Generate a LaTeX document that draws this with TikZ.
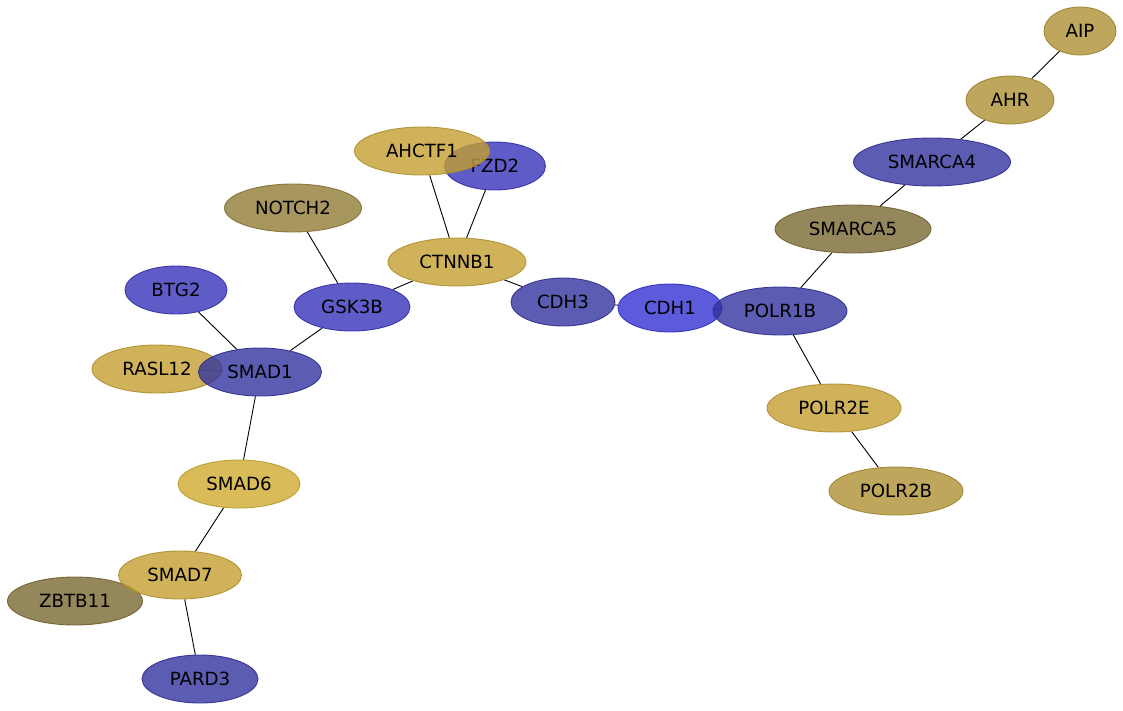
\documentclass[tikz,border=0pt]{standalone}
\usepackage{fontspec}
\setmainfont{DejaVu Sans}
\usetikzlibrary{shapes.geometric,backgrounds}

\definecolor{goldA}{RGB}{195,159,49}
\definecolor{goldB}{RGB}{207,170,49}
\definecolor{goldC}{RGB}{174,144,51}
\definecolor{oliveA}{RGB}{146,124,55}
\definecolor{oliveB}{RGB}{122,105,51}
\definecolor{blueA}{RGB}{55,51,186}
\definecolor{blueB}{RGB}{51,51,159}
\definecolor{blueC}{RGB}{52,49,211}

\tikzset{
  gene/.style={ellipse, draw, line width=0.9pt, fill opacity=0.8, draw opacity=0.9,
    text opacity=1, minimum height=48pt, inner sep=0pt,
    font=\fontsize{18.2}{21}\selectfont},
  link/.style={draw=black, line width=0.9pt}
}

\begin{document}
\begin{tikzpicture}[x=1pt, y=-1pt]
						\useasboundingbox (0,0) rectangle (1123,710);
						\node[gene, fill=goldC, draw=goldC!90!black, minimum width=72pt] (AIP) at (1080, 31) {AIP};
						\node[gene, fill=goldC, draw=goldC!90!black, minimum width=88pt] (AHR) at (1010, 100) {AHR};
						\node[gene, fill=blueB, draw=blueB!90!black, minimum width=157pt] (SMARCA4) at (932, 162) {SMARCA4};
						\node[gene, fill=oliveB, draw=oliveB!90!black, minimum width=156pt] (SMARCA5) at (853, 229) {SMARCA5};
						\node[gene, fill=blueC, draw=blueC!90!black, minimum width=104pt] (CDH1) at (670, 308) {CDH1};
						\node[gene, fill=blueB, draw=blueB!90!black, minimum width=134pt] (POLR1B) at (780, 311) {POLR1B};
						\node[gene, fill=goldA, draw=goldA!90!black, minimum width=134pt] (POLR2E) at (834, 408) {POLR2E};
						\node[gene, fill=goldC, draw=goldC!90!black, minimum width=134pt] (POLR2B) at (896, 491) {POLR2B};
						\node[gene, fill=blueB, draw=blueB!90!black, minimum width=104pt] (CDH3) at (563, 302) {CDH3};
						\node[gene, fill=goldA, draw=goldA!90!black, minimum width=138pt] (CTNNB1) at (457, 262) {CTNNB1};
						\node[gene, fill=blueA, draw=blueA!90!black, minimum width=101pt] (FZD2) at (495, 166) {FZD2};
						\node[gene, fill=goldA, draw=goldA!90!black, minimum width=135pt] (AHCTF1) at (422, 151) {AHCTF1};
						\node[gene, fill=oliveA, draw=oliveA!90!black, minimum width=137pt] (NOTCH2) at (293, 208) {NOTCH2};
						\node[gene, fill=blueA, draw=blueA!90!black, minimum width=116pt] (GSK3B) at (352, 307) {GSK3B};
						\node[gene, fill=blueA, draw=blueA!90!black, minimum width=102pt] (BTG2) at (176, 290) {BTG2};
						\node[gene, fill=goldA, draw=goldA!90!black, minimum width=130pt] (RASL12) at (157, 369) {RASL12};
						\node[gene, fill=blueB, draw=blueB!90!black, minimum width=123pt] (SMAD1) at (260, 372) {SMAD1};
						\node[gene, fill=goldB, draw=goldB!90!black, minimum width=122pt] (SMAD6) at (239, 484) {SMAD6};
						\node[gene, fill=oliveB, draw=oliveB!90!black, minimum width=135pt] (ZBTB11) at (75, 601) {ZBTB11};
						\node[gene, fill=goldA, draw=goldA!90!black, minimum width=123pt] (SMAD7) at (180, 575) {SMAD7};
						\node[gene, fill=blueB, draw=blueB!90!black, minimum width=116pt] (PARD3) at (200, 679) {PARD3};
						\begin{scope}[on background layer]
						\draw[link] (AIP) -- (AHR);
						\draw[link] (AHR) -- (SMARCA4);
						\draw[link] (SMARCA4) -- (SMARCA5);
						\draw[link] (SMARCA5) -- (POLR1B);
						\draw[link] (POLR1B) -- (POLR2E);
						\draw[link] (POLR2E) -- (POLR2B);
						\draw[link] (POLR1B) -- (CDH1);
						\draw[link] (CDH1) -- (CDH3);
						\draw[link] (CDH3) -- (CTNNB1);
						\draw[link] (CTNNB1) -- (AHCTF1);
						\draw[link] (CTNNB1) -- (FZD2);
						\draw[link] (CTNNB1) -- (GSK3B);
						\draw[link] (GSK3B) -- (NOTCH2);
						\draw[link] (GSK3B) -- (SMAD1);
						\draw[link] (SMAD1) -- (BTG2);
						\draw[link] (SMAD1) -- (RASL12);
						\draw[link] (SMAD1) -- (SMAD6);
						\draw[link] (SMAD6) -- (SMAD7);
						\draw[link] (SMAD7) -- (ZBTB11);
						\draw[link] (SMAD7) -- (PARD3);
						\end{scope}
					\end{tikzpicture}
\end{document}
